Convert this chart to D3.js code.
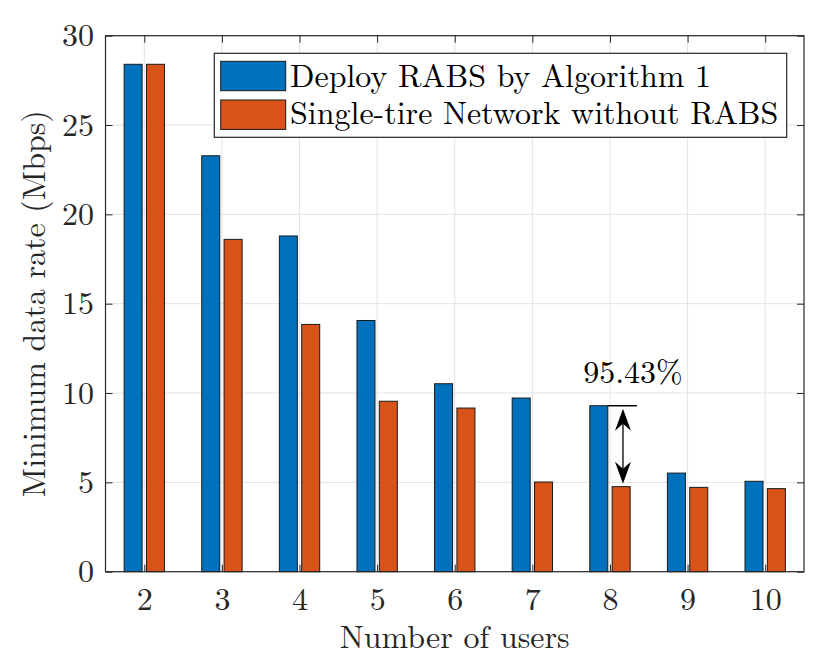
<!doctype html>
<html>
<head>
<script src="https://cdnjs.cloudflare.com/ajax/libs/d3/7.8.5/d3.min.js"></script>
<style>
body { margin: 0; background: #fff; }
</style>
</head>
<body>
<svg id="chart" width="831" height="656"></svg>
<script>
// data
var users = [2, 3, 4, 5, 6, 7, 8, 9, 10];
var rabsRate = [28.4, 23.28, 18.79, 14.06, 10.52, 9.72, 9.29, 5.52, 5.06];
var singleRate = [28.4, 18.6, 13.84, 9.54, 9.16, 5.02, 4.76, 4.72, 4.65];
var yTicks = [0, 5, 10, 15, 20, 25, 30];
var seriesNames = ["Deploy RABS by Algorithm 1", "Single-tire Network without RABS"];
var seriesColors = ["#0072BD", "#D95319"];
var gainLabel = "95.43%";
var gainAt = 8;

var FONT = "'Latin Modern Roman', 'CMU Serif', 'Liberation Serif', serif";
var FS = 32;

var svg = d3.select("#chart");
var m = {left: 105.5, right: 804, top: 35.7, bottom: 571.7};

var x = d3.scaleLinear().domain([1.5, 10.5]).range([m.left, m.right]);
var y = d3.scaleLinear().domain([0, 30]).range([m.bottom, m.top]);

// grid
var grid = svg.append("g");
grid.selectAll("line.gx").data(users).enter().append("line")
  .attr("x1", d => x(d)).attr("x2", d => x(d))
  .attr("y1", m.top).attr("y2", m.bottom)
  .attr("stroke", "#e3e3e3").attr("stroke-width", 1);
grid.selectAll("line.gy").data(yTicks).enter().append("line")
  .attr("y1", d => y(d)).attr("y2", d => y(d))
  .attr("x1", m.left).attr("x2", m.right)
  .attr("stroke", "#e3e3e3").attr("stroke-width", 1);

// bars
var bw = 0.232, off = 0.144;
var series = [rabsRate, singleRate];
series.forEach(function(vals, i) {
  svg.append("g").selectAll("rect").data(users).enter().append("rect")
    .attr("x", (d) => x(d + (i === 0 ? -off : off) - bw / 2))
    .attr("width", x(bw) - x(0))
    .attr("y", (d, j) => y(vals[j]))
    .attr("height", (d, j) => y(0) - y(vals[j]))
    .attr("fill", seriesColors[i])
    .attr("stroke", "#1a1a1a").attr("stroke-width", 1);
});

// axes (ticks inward, box)
var tickLen = 7;
var xAx = svg.append("g").attr("transform", "translate(0," + m.bottom + ")")
  .call(d3.axisBottom(x).tickValues(users).tickSize(-tickLen).tickPadding(15.5).tickFormat(d3.format("d")));
var xTop = svg.append("g").attr("transform", "translate(0," + m.top + ")")
  .call(d3.axisTop(x).tickValues(users).tickSize(-tickLen).tickFormat(""));
var yAx = svg.append("g").attr("transform", "translate(" + m.left + ",0)")
  .call(d3.axisLeft(y).tickValues(yTicks).tickSize(-tickLen).tickPadding(11.5));
var yRight = svg.append("g").attr("transform", "translate(" + m.right + ",0)")
  .call(d3.axisRight(y).tickValues(yTicks).tickSize(-tickLen).tickFormat(""));
[xAx, xTop, yAx, yRight].forEach(function(g) {
  g.select(".domain").remove();
  g.selectAll(".tick line").attr("stroke", "#262626");
  g.selectAll("text").style("font-size", FS + "px").style("fill", "#262626")
    .style("font-family", FONT);
});
svg.append("rect").attr("x", m.left).attr("y", m.top)
  .attr("width", m.right - m.left).attr("height", m.bottom - m.top)
  .attr("fill", "none").attr("stroke", "#262626").attr("stroke-width", 1.2);

function label(sel) {
  return sel.style("font-family", FONT).style("font-size", FS + "px").style("fill", "#262626");
}

// axis labels
label(svg.append("text")).attr("x", (m.left + m.right) / 2).attr("y", 648)
  .attr("text-anchor", "middle").text("Number of users");
label(svg.append("text")).attr("transform", "translate(45," + ((m.top + m.bottom) / 2) + ") rotate(-90)")
  .attr("text-anchor", "middle").text("Minimum data rate (Mbps)");

// annotation at 8 users
var k = users.indexOf(gainAt);
var topY = y(rabsRate[k]), botY = y(singleRate[k]);
var ax = x(gainAt) + 13;
svg.append("line").attr("x1", x(gainAt - off + bw / 2)).attr("x2", x(gainAt) + 27)
  .attr("y1", topY).attr("y2", topY).attr("stroke", "#000").attr("stroke-width", 1.5);
svg.append("line").attr("x1", ax).attr("x2", ax).attr("y1", topY + 12).attr("y2", botY - 12)
  .attr("stroke", "#000").attr("stroke-width", 1.3);
function head(tipY, dir) {
  var p = [[ax, tipY], [ax - 8, tipY + dir * 22], [ax, tipY + dir * 15], [ax + 8, tipY + dir * 22]];
  svg.append("path").attr("d", "M" + p.join("L") + "Z").attr("fill", "#000");
}
head(topY + 3, 1);
head(botY - 3, -1);
label(svg.append("text")).attr("x", x(gainAt) + 23).attr("y", 383).attr("text-anchor", "middle")
  .style("fill", "#000").text(gainLabel);

// legend
var lg = svg.append("g");
lg.append("rect").attr("x", 214.3).attr("y", 53.3).attr("width", 572.4).attr("height", 84)
  .attr("fill", "#fff").attr("stroke", "#262626").attr("stroke-width", 1.2);
seriesNames.forEach(function(name, i) {
  var yy = 61.3 + i * 38.7;
  lg.append("rect").attr("x", 220.7).attr("y", yy).attr("width", 65).attr("height", 29.4)
    .attr("fill", seriesColors[i]).attr("stroke", "#1a1a1a").attr("stroke-width", 1);
  label(lg.append("text")).attr("x", 290).attr("y", 86.7 + i * 37)
    .style("fill", "#000").text(name);
});
</script>
</body>
</html>
